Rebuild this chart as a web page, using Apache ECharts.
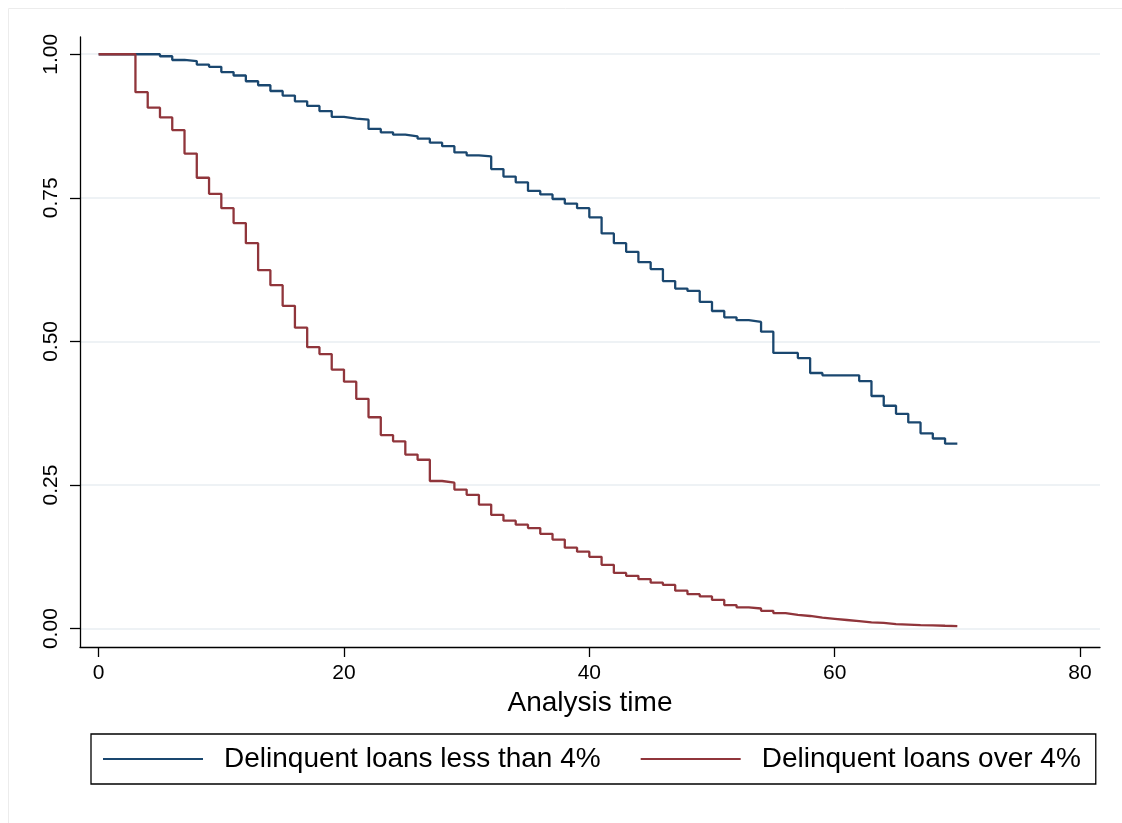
<!DOCTYPE html>
<html>
<head>
<meta charset="utf-8">
<script src="https://cdn.jsdelivr.net/npm/echarts@6/dist/echarts.min.js"></script>
<style>
html,body{margin:0;padding:0;background:#fff;}
#chart{width:1122px;height:823px;}
</style>
</head>
<body>
<div id="chart"></div>
<script>
// Analysis time (months)
var times = [];
for (var i = 0; i <= 70; i++) times.push(i);

// Survivor estimates, delinquent loans less than 4%
var survLow = [
  1.000, 1.000, 1.000, 1.000, 1.000, 0.9965, 0.990, 0.988, 0.982, 0.978,
  0.969, 0.963, 0.953, 0.946, 0.936, 0.928, 0.918, 0.910, 0.901, 0.891,
  0.888, 0.886, 0.870, 0.864, 0.860, 0.857, 0.853, 0.846, 0.840, 0.829,
  0.824, 0.822, 0.800, 0.787, 0.777, 0.762, 0.756, 0.748, 0.740, 0.732,
  0.716, 0.688, 0.671, 0.656, 0.638, 0.626, 0.605, 0.592, 0.588, 0.569,
  0.553, 0.542, 0.537, 0.534, 0.517, 0.480, 0.480, 0.471, 0.445, 0.441,
  0.441, 0.441, 0.431, 0.405, 0.388, 0.374, 0.359, 0.340, 0.331, 0.322,
  0.322
];

// Survivor estimates, delinquent loans over 4%
var survHigh = [
  1.000, 1.000, 1.000, 0.934, 0.907, 0.890, 0.868, 0.827, 0.785, 0.757,
  0.732, 0.706, 0.671, 0.624, 0.598, 0.562, 0.524, 0.490, 0.478, 0.451,
  0.430, 0.400, 0.368, 0.337, 0.326, 0.303, 0.294, 0.257, 0.254, 0.242,
  0.233, 0.216, 0.198, 0.188, 0.181, 0.175, 0.165, 0.155, 0.141, 0.134,
  0.125, 0.111, 0.097, 0.092, 0.086, 0.080, 0.076, 0.066, 0.060, 0.056,
  0.050, 0.041, 0.037, 0.035, 0.031, 0.027, 0.024, 0.022, 0.019, 0.017,
  0.015, 0.013, 0.011, 0.010, 0.008, 0.007, 0.006, 0.0058, 0.005, 0.0045,
  0.004
];

var seriesNames = ['Delinquent loans less than 4%', 'Delinquent loans over 4%'];
var xTicks = [0, 20, 40, 60, 80];
var yTicks = [0, 0.25, 0.5, 0.75, 1];
var xTitle = 'Analysis time';

function pairs(vals) {
  return times.map(function (t, i) { return [t, vals[i]]; });
}

var FONT = 'Liberation Sans, Arial, Helvetica, sans-serif';
var chart = echarts.init(document.getElementById('chart'));
chart.setOption({
  animation: false,
  backgroundColor: '#ffffff',
  graphic: [{
    type: 'rect', left: 6, top: 6, silent: true,
    shape: { width: 1116, height: 817 },
    style: { fill: 'none', stroke: '#ececec', lineWidth: 1 }
  }],
  grid: { left: 80, right: 22, top: 37, bottom: 176, containLabel: false },
  xAxis: {
    type: 'value', min: -1.52, max: 81.63,
    name: xTitle, nameLocation: 'middle', nameGap: 38,
    nameTextStyle: { fontFamily: FONT, fontSize: 28, color: '#000' },
    axisLine: { show: true, onZero: false, lineStyle: { color: '#000', width: 1.3 } },
    axisTick: { show: true, length: 10, customValues: xTicks, lineStyle: { color: '#000', width: 1.3 } },
    axisLabel: { customValues: xTicks, margin: 16, fontFamily: FONT, fontSize: 21, color: '#000',
                 formatter: function (v) { return String(v); } },
    splitLine: { show: false }
  },
  yAxis: {
    type: 'value', min: -0.032, max: 1.03,
    axisLine: { show: true, onZero: false, lineStyle: { color: '#000', width: 1.3 } },
    axisTick: { show: true, length: 10, customValues: yTicks, lineStyle: { color: '#000', width: 1.3 } },
    axisLabel: { customValues: yTicks, rotate: 90, margin: 18, fontFamily: FONT, fontSize: 21, color: '#000',
                 formatter: function (v) { return v.toFixed(2); } },
    splitLine: { show: true, lineStyle: { color: '#e8eef2', width: 1.5 } }
  },
  legend: {
    data: seriesNames,
    left: 91, top: 734,
    orient: 'horizontal',
    padding: [11, 15, 11, 12],
    itemGap: 40,
    itemWidth: 100, itemHeight: 2,
    icon: 'rect',
    borderColor: '#000', borderWidth: 1.3,
    textStyle: { fontFamily: FONT, fontSize: 28, color: '#000', padding: [0, 0, 0, 16] }
  },
  series: [
    {
      name: seriesNames[0], type: 'line', step: 'end', showSymbol: false,
      data: pairs(survLow),
      itemStyle: { color: '#1a476f' },
      lineStyle: { color: '#1a476f', width: 2.3 }
    },
    {
      name: seriesNames[1], type: 'line', step: 'end', showSymbol: false,
      data: pairs(survHigh),
      itemStyle: { color: '#90353b' },
      lineStyle: { color: '#90353b', width: 2.3 }
    }
  ]
});
</script>
</body>
</html>
